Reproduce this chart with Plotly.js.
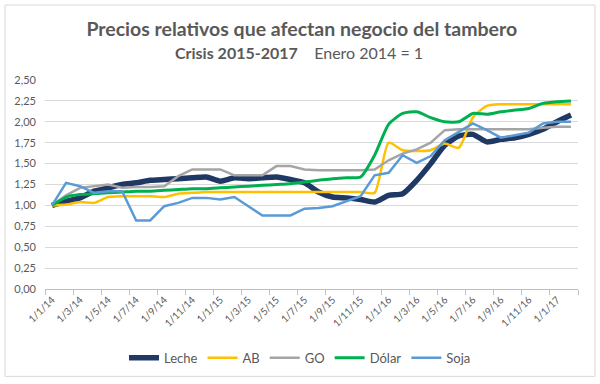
<!DOCTYPE html>
<html>
<head>
<meta charset="utf-8">
<script src="https://cdn.plot.ly/plotly-3.0.1.min.js"></script>
<style>
html,body{margin:0;padding:0;background:#fff;}
#chart{width:600px;height:384px;}
</style>
</head>
<body>
<div id="chart"></div>
<script>
var months = ['1/1/14','1/2/14','1/3/14','1/4/14','1/5/14','1/6/14','1/7/14','1/8/14','1/9/14','1/10/14','1/11/14','1/12/14',
              '1/1/15','1/2/15','1/3/15','1/4/15','1/5/15','1/6/15','1/7/15','1/8/15','1/9/15','1/10/15','1/11/15','1/12/15',
              '1/1/16','1/2/16','1/3/16','1/4/16','1/5/16','1/6/16','1/7/16','1/8/16','1/9/16','1/10/16','1/11/16','1/12/16',
              '1/1/17','1/2/17'];

var leche = [1.00,1.05,1.09,1.17,1.21,1.25,1.27,1.30,1.31,1.32,1.33,1.34,
             1.29,1.33,1.32,1.33,1.34,1.31,1.27,1.16,1.10,1.09,1.07,1.04,
             1.12,1.14,1.30,1.50,1.72,1.83,1.85,1.76,1.79,1.81,1.85,1.91,
             2.00,2.08];
var ab    = [1.00,1.01,1.04,1.03,1.10,1.11,1.11,1.11,1.10,1.14,1.15,1.16,
             1.16,1.16,1.16,1.16,1.16,1.16,1.16,1.16,1.16,1.16,1.16,1.15,
             1.75,1.66,1.65,1.66,1.74,1.69,2.05,2.19,2.21,2.21,2.21,2.21,
             2.21,2.21];
var go    = [1.00,1.12,1.21,1.23,1.25,1.21,1.22,1.22,1.23,1.35,1.43,1.43,
             1.43,1.36,1.36,1.36,1.47,1.47,1.43,1.42,1.42,1.42,1.42,1.43,
             1.54,1.62,1.67,1.75,1.90,1.91,1.91,1.91,1.91,1.91,1.91,1.93,
             1.94,1.94];
var dolar = [1.00,1.10,1.13,1.14,1.15,1.16,1.17,1.17,1.18,1.19,1.20,1.20,
             1.21,1.22,1.23,1.24,1.25,1.26,1.28,1.30,1.32,1.33,1.34,1.60,
             1.97,2.10,2.12,2.05,2.00,2.00,2.10,2.09,2.12,2.14,2.16,2.22,
             2.24,2.25];
var soja  = [1.00,1.27,1.23,1.15,1.17,1.17,0.82,0.82,0.99,1.03,1.09,1.09,
             1.07,1.10,0.99,0.88,0.88,0.88,0.96,0.97,0.99,1.05,1.11,1.36,
             1.39,1.60,1.51,1.59,1.78,1.88,1.98,1.90,1.81,1.84,1.87,1.98,
             2.00,2.00];

var seriesNames = ['Leche','AB','GO','Dólar','Soja'];

var FONT = 'Lato, "Open Sans", sans-serif';
var GREY = '#595959';

var traces = [
  {x: months, y: leche, name: seriesNames[0], mode: 'lines', line: {color: '#1f3864', width: 5.5, shape: 'spline', smoothing: 0.6}},
  {x: months, y: ab,    name: seriesNames[1], mode: 'lines', line: {color: '#ffc000', width: 2.5, shape: 'spline', smoothing: 0.6}},
  {x: months, y: go,    name: seriesNames[2], mode: 'lines', line: {color: '#a5a5a5', width: 2.5}},
  {x: months, y: dolar, name: seriesNames[3], mode: 'lines', line: {color: '#00b050', width: 3, shape: 'spline', smoothing: 0.6}},
  {x: months, y: soja,  name: seriesNames[4], mode: 'lines', line: {color: '#5b9bd5', width: 2.5}}
];

var layout = {
  width: 600, height: 384,
  margin: {l: 45, r: 22, t: 79.5, b: 94},
  paper_bgcolor: '#fff', plot_bgcolor: '#fff',
  font: {family: FONT, color: GREY, size: 11},
  separators: ',.',
  showlegend: true,
  title: {
    text: '<b>Precios relativos que afectan negocio del tambero</b>',
    font: {family: FONT, size: 19.5, color: GREY},
    x: 0.503, xref: 'container', xanchor: 'center',
    y: 1 - 29/384, yref: 'container', yanchor: 'middle'
  },
  annotations: [{
    text: '<b>Crisis 2015-2017</b>\u00a0\u00a0\u00a0\u00a0Enero 2014 = 1',
    xref: 'paper', yref: 'paper',
    x: (299 - 45) / 533, y: (290 - 52) / 210.5,
    xanchor: 'center', yanchor: 'middle',
    showarrow: false,
    font: {family: FONT, size: 16, color: GREY}
  }],
  shapes: [{
    type: 'rect', xref: 'paper', yref: 'paper', layer: 'below',
    x0: (5 - 45) / 533, x1: (595 - 45) / 533,
    y0: (290 - 378) / 210.5, y1: (290 - 4) / 210.5,
    line: {color: '#d9d9d9', width: 1}, fillcolor: 'rgba(0,0,0,0)'
  }],
  xaxis: {
    type: 'category',
    range: [-0.5, 37.5],
    tickmode: 'linear', tick0: 0, dtick: 2,
    tickson: 'boundaries',
    ticks: 'outside', ticklen: 5, tickcolor: '#bfbfbf', tickwidth: 1,
    showgrid: false,
    showline: true, linecolor: '#bfbfbf', linewidth: 1,
    tickangle: -45,
    tickfont: {family: FONT, size: 10, color: GREY},
    fixedrange: true
  },
  yaxis: {
    range: [0, 2.5],
    tickmode: 'linear', tick0: 0, dtick: 0.25,
    tickformat: '.2f',
    showgrid: true, gridcolor: '#d9d9d9', gridwidth: 1,
    zeroline: false, showline: false,
    ticks: '', ticklabelstandoff: 8,
    tickfont: {family: FONT, size: 11, color: GREY},
    fixedrange: true
  },
  legend: {
    orientation: 'h',
    x: (300 - 45) / 533, xanchor: 'center',
    y: (290 - 358) / 210.5, yanchor: 'middle',
    font: {family: FONT, size: 13, color: GREY},
    itemwidth: 30,
    traceorder: 'normal',
    bgcolor: 'rgba(0,0,0,0)'
  }
};

Plotly.newPlot('chart', traces, layout, {displayModeBar: false, staticPlot: true});
</script>
</body>
</html>
